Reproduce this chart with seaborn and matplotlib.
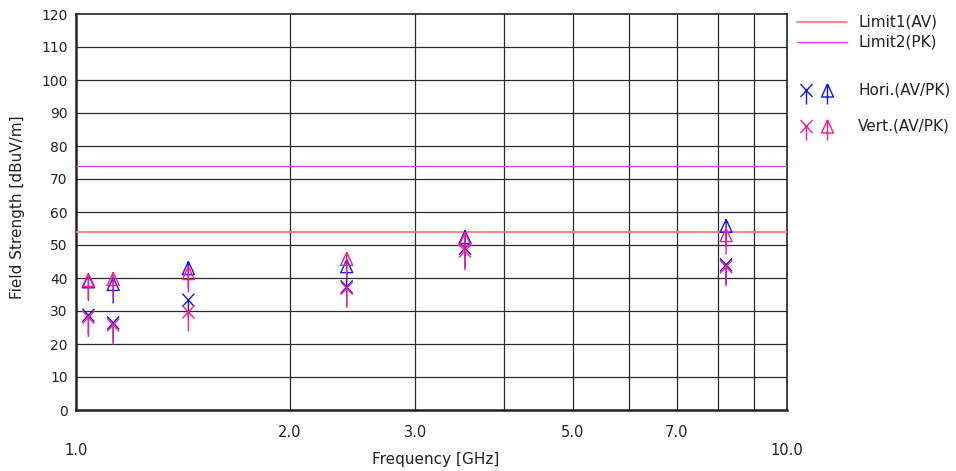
import matplotlib
matplotlib.use("Agg")
import matplotlib.pyplot as plt
from matplotlib.path import Path
from matplotlib.markers import MarkerStyle
from matplotlib.lines import Line2D
import seaborn as sns

# Measurement frequencies (GHz) and field strengths (dBuV/m)
freq_ghz = [1.041, 1.128, 1.439, 2.403, 3.525, 8.21]
hori_av = [28.7, 26.4, 33.3, 37.3, 49.0, 44.0]
hori_pk = [39.0, 38.2, 43.0, 43.6, 52.4, 55.8]
vert_av = [28.1, 25.8, 29.7, 36.9, 48.2, 43.4]
vert_pk = [39.4, 39.7, 41.5, 45.8, 51.8, 53.0]

limit_av = 54
limit_pk = 74

y_ticks = list(range(0, 121, 10))
x_inner_ticks = [2.0, 3.0, 5.0, 7.0]
x_inner_labels = ["2.0", "3.0", "5.0", "7.0"]
x_edge_ticks = [1.0, 10.0]
x_edge_labels = ["1.0", "10.0"]
grid_freqs = [2, 3, 4, 5, 6, 7, 8, 9]

legend_lines = ["Limit1(AV)", "Limit2(PK)"]
legend_pols = ["Hori.(AV/PK)", "Vert.(AV/PK)"]

BLUE = "#1414ff"
PINK = "#ff1a8c"
LIM1 = "#ff7070"
LIM2 = "#e040e0"

sns.set_theme(style="white")
plt.rcParams["font.family"] = ["DejaVu Sans"]


def av_marker(stem):
    # cross with a tail running down from its centre
    verts = [(-6, -6.5), (6, 6.5), (-6, 6.5), (6, -6.5), (0, 0), (0, -stem)]
    codes = [Path.MOVETO, Path.LINETO] * 3
    return MarkerStyle(Path(verts, codes))


def pk_marker(stem):
    # open triangle with a shaft running down from its apex
    verts = [(0, 6.5), (-6, -6.5), (6, -6.5), (0, 6.5), (0, 6.5), (0, -stem)]
    codes = [Path.MOVETO, Path.LINETO, Path.LINETO, Path.LINETO,
             Path.MOVETO, Path.LINETO]
    return MarkerStyle(Path(verts, codes))


W, H = 956, 471
fig = plt.figure(figsize=(W / 100, H / 100), dpi=100)
ax = fig.add_axes([76 / W, 61 / H, 711 / W, 396 / H])
ax.set_xscale("log")
ax.set_xlim(1, 10)
ax.set_ylim(0, 120)

# grid
for f in grid_freqs:
    ax.axvline(f, color="#2a2a2a", lw=0.9, zorder=1)
for v in y_ticks[1:-1]:
    ax.axhline(v, color="#2a2a2a", lw=0.9, zorder=1)

# limit lines
sns.lineplot(x=[1, 10], y=[limit_av, limit_av], color=LIM1, lw=1.2, ax=ax, zorder=3)
sns.lineplot(x=[1, 10], y=[limit_pk, limit_pk], color=LIM2, lw=0.8, ax=ax, zorder=3)

# measured points
stem_px = 19.5
size = (2 * stem_px * 72 / 100) ** 2
for vals, mk, col in [(hori_av, av_marker(stem_px), BLUE),
                      (hori_pk, pk_marker(stem_px), BLUE),
                      (vert_av, av_marker(stem_px), PINK),
                      (vert_pk, pk_marker(stem_px), PINK)]:
    sns.scatterplot(x=freq_ghz, y=vals, marker=mk, s=size, color=col,
                    facecolor="none", edgecolor=col, linewidth=1.0,
                    ax=ax, zorder=5, legend=False)

# axes styling
ax.set_yticks(y_ticks)
ax.set_yticklabels([str(v) for v in y_ticks], fontsize=10)
ax.set_xticks(x_inner_ticks)
ax.set_xticklabels(x_inner_labels, fontsize=10.5)
ax.set_xticks(x_edge_ticks, minor=True)
ax.set_xticklabels(x_edge_labels, minor=True, fontsize=10.5)
ax.tick_params(axis="y", length=0, pad=6, colors="#222222")
ax.tick_params(axis="x", which="major", length=0, pad=10.5, colors="#222222")
ax.tick_params(axis="x", which="minor", length=0, pad=24, colors="#222222")
for s in ax.spines.values():
    s.set_visible(True)
    s.set_color("#222222")
    s.set_linewidth(1.2)
ax.spines["left"].set_linewidth(1.8)
ax.spines["bottom"].set_linewidth(1.8)

ax.set_xlabel("Frequency [GHz]", fontsize=11, color="#222222")
ax.set_ylabel("Field Strength [dBuV/m]", fontsize=11, color="#222222")
ax.xaxis.set_label_coords(0.5063, -0.106)
ax.yaxis.set_label_coords(-0.072, 0.513)

# legend
def fx(px):
    return px / W


def fy(py):
    return 1 - py / H


for (label, col, lw), py in zip([(legend_lines[0], LIM1, 1.2),
                                 (legend_lines[1], LIM2, 1.0)], [22, 42]):
    fig.add_artist(Line2D([fx(797), fx(847)], [fy(py), fy(py)], color=col,
                          lw=lw, transform=fig.transFigure))
    fig.text(fx(858), fy(py), label, ha="left", va="center", fontsize=11,
             color="#222222")

leg_stem = 14
leg_ms = 2 * leg_stem * 72 / 100
for (label, col), py in zip([(legend_pols[0], BLUE), (legend_pols[1], PINK)],
                            [90, 126]):
    for px, mk in [(806, av_marker(leg_stem)), (827, pk_marker(leg_stem))]:
        fig.add_artist(Line2D([fx(px)], [fy(py)], marker=mk, markersize=leg_ms,
                              mfc="none", mec=col, mew=1.0, linestyle="none",
                              transform=fig.transFigure))
    fig.text(fx(858), fy(py), label, ha="left", va="center", fontsize=11,
             color="#222222")

fig.savefig("out.png", dpi=100)
